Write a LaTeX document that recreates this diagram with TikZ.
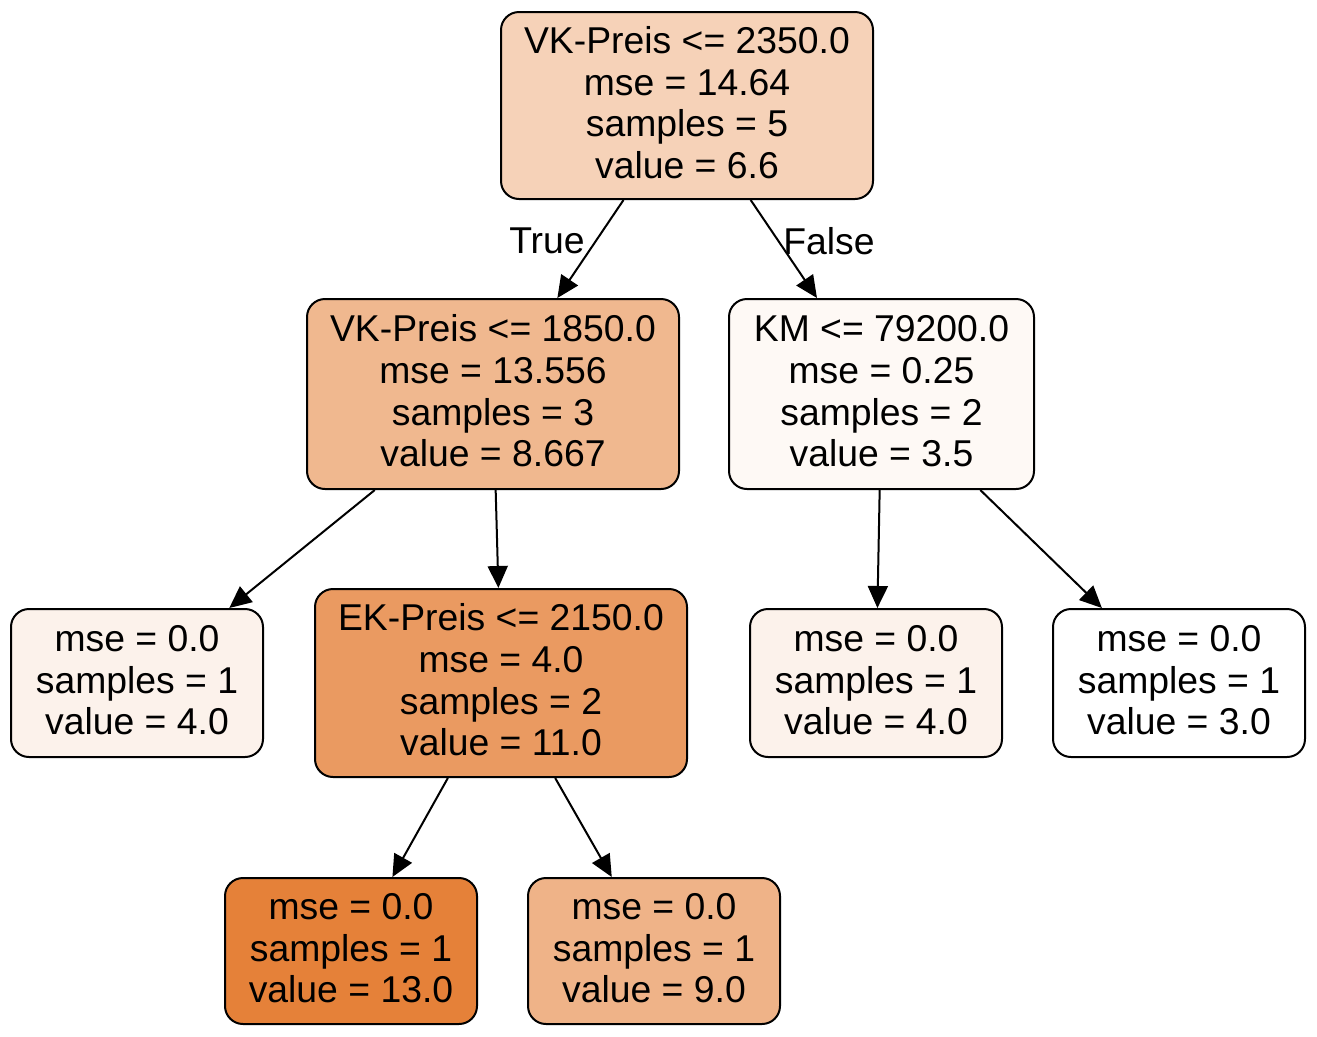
\documentclass[tikz,border=0pt]{standalone}
\usepackage{fontspec}
\setmainfont{Liberation Sans}
\usetikzlibrary{arrows.meta}
\definecolor{c66}{RGB}{246,210,184}
\definecolor{c86}{RGB}{240,184,143}
\definecolor{c35}{RGB}{254,249,245}
\definecolor{c40}{RGB}{252,242,235}
\definecolor{c110}{RGB}{234,154,97}
\definecolor{c130}{RGB}{229,129,57}
\definecolor{c90}{RGB}{239,179,136}
\newcommand{\lbl}[1]{\raisebox{-1.5pt}[\height][\depth]{\begin{tabular}{@{}c@{}}#1\end{tabular}}}
\tikzset{
  tnode/.style={draw=black, line width=1.5pt, rounded corners=13.5pt, inner sep=0pt, align=center,
    font=\fontsize{28}{31.2}\selectfont},
  edge/.style={draw=black, line width=1.5pt, -{Triangle[length=16.5pt,width=15pt]}},
  elabel/.style={inner sep=0pt, font=\fontsize{28}{31.2}\selectfont},
}
\begin{document}
\begin{tikzpicture}[x=0.75pt,y=-0.75pt]
\useasboundingbox[fill=white] (0,0) rectangle (1317,1036);
\node[tnode, fill=c66, minimum width=279pt, minimum height=140.25pt] (root) at (687,105.5)
  {\lbl{VK-Preis <= 2350.0\\mse = 14.64\\samples = 5\\value = 6.6}};
\node[tnode, fill=c86, minimum width=279pt, minimum height=142.5pt] (n1) at (493,394)
  {\lbl{VK-Preis <= 1850.0\\mse = 13.556\\samples = 3\\value = 8.667}};
\node[tnode, fill=c35, minimum width=228.75pt, minimum height=142.5pt] (n2) at (881.5,394)
  {\lbl{KM <= 79200.0\\mse = 0.25\\samples = 2\\value = 3.5}};
\node[tnode, fill=c40, minimum width=189pt, minimum height=111pt] (l1) at (137,683)
  {\lbl{mse = 0.0\\samples = 1\\value = 4.0}};
\node[tnode, fill=c110, minimum width=279pt, minimum height=141pt] (ek) at (501,683)
  {\lbl{EK-Preis <= 2150.0\\mse = 4.0\\samples = 2\\value = 11.0}};
\node[tnode, fill=c40, minimum width=189pt, minimum height=111pt] (l2) at (876,683)
  {\lbl{mse = 0.0\\samples = 1\\value = 4.0}};
\node[tnode, fill=white, minimum width=189pt, minimum height=111pt] (l3) at (1179,683)
  {\lbl{mse = 0.0\\samples = 1\\value = 3.0}};
\node[tnode, fill=c130, minimum width=189pt, minimum height=109.5pt] (l4) at (351,951)
  {\lbl{mse = 0.0\\samples = 1\\value = 13.0}};
\node[tnode, fill=c90, minimum width=189pt, minimum height=109.5pt] (l5) at (654,951)
  {\lbl{mse = 0.0\\samples = 1\\value = 9.0}};
\draw[edge] (root) -- (n1);
\draw[edge] (root) -- (n2);
\draw[edge] (n1) -- (l1);
\draw[edge] (n1) -- (ek);
\draw[edge] (n2) -- (l2);
\draw[edge] (n2) -- (l3);
\draw[edge] (ek) -- (l4);
\draw[edge] (ek) -- (l5);
\node[elabel] (lt) at (547,241) {True};
\node[elabel] (lf) at (829,241) {False};
\end{tikzpicture}
\end{document}
